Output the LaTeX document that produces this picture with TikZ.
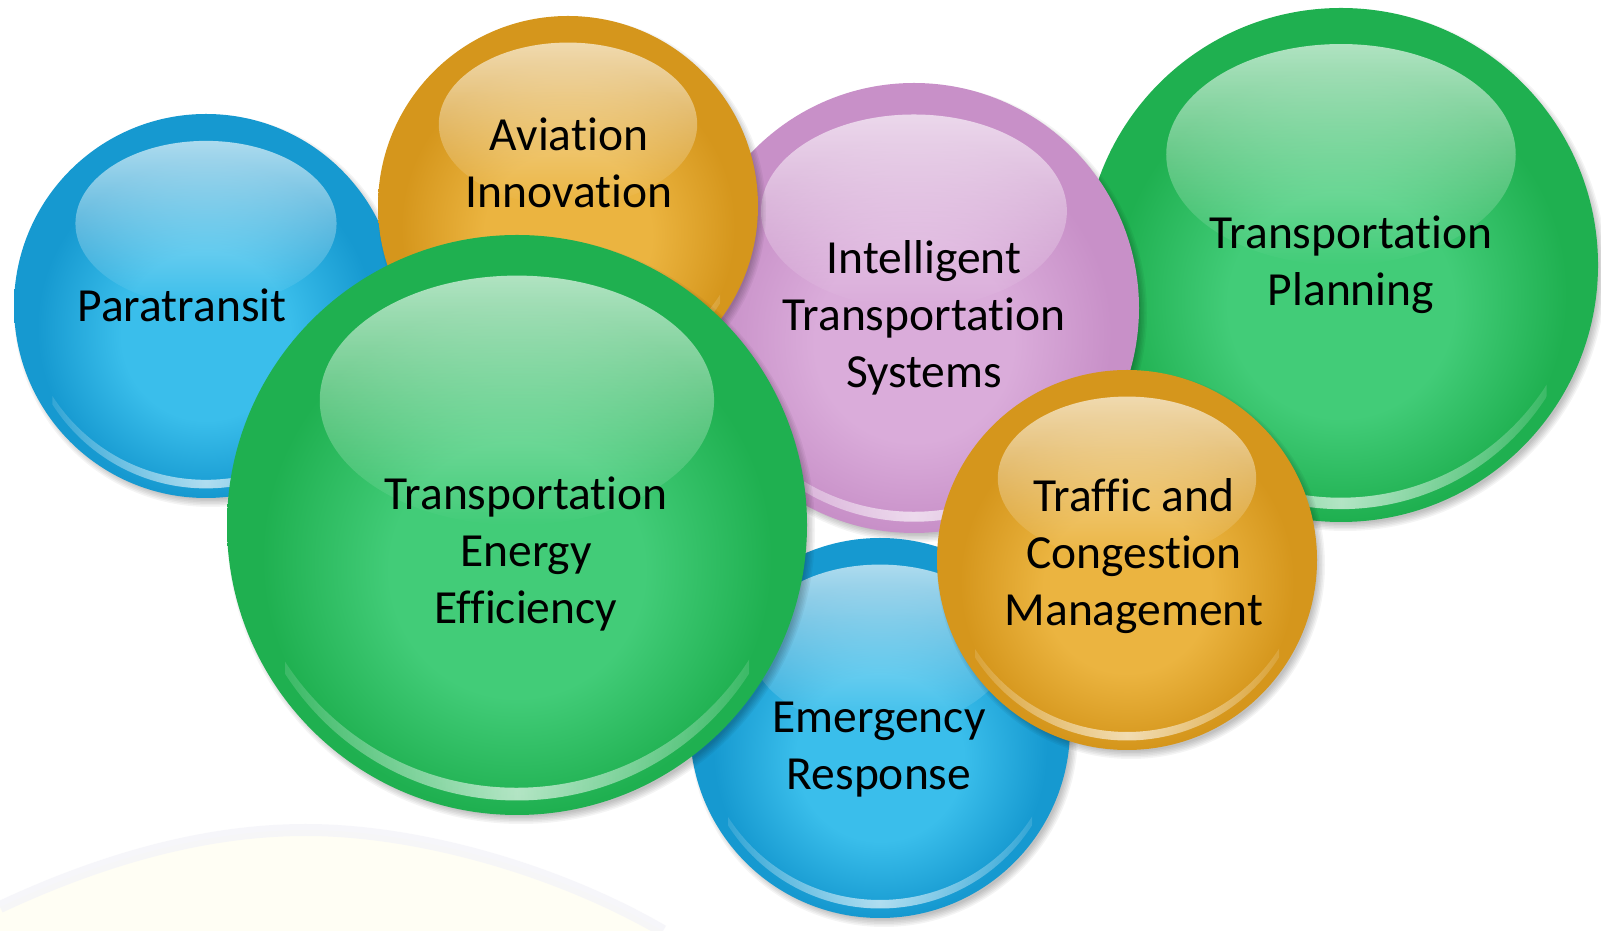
\documentclass[tikz,border=0pt]{standalone}
\usepackage{fontspec}
\setmainfont{Carlito}[Ligatures={NoCommon}]
\usetikzlibrary{fadings}
\definecolor{bluec}{RGB}{58,190,235}
\definecolor{bluee}{RGB}{22,153,208}
\definecolor{greenc}{RGB}{66,204,120}
\definecolor{greene}{RGB}{31,176,80}
\definecolor{orangec}{RGB}{235,180,64}
\definecolor{orangee}{RGB}{213,150,28}
\definecolor{purplec}{RGB}{218,172,218}
\definecolor{purplee}{RGB}{200,144,200}
\definecolor{swy}{RGB}{255,254,244}
\definecolor{swl}{RGB}{243,243,249}
\pgfdeclareradialshading{bluesph}{\pgfpoint{0bp}{-5bp}}{color(0bp)=(bluec); color(11bp)=(bluec); color(22bp)=(bluee); color(25bp)=(bluee); color(50bp)=(bluee)}
\pgfdeclareradialshading{greensph}{\pgfpoint{0bp}{-5bp}}{color(0bp)=(greenc); color(11bp)=(greenc); color(22bp)=(greene); color(25bp)=(greene); color(50bp)=(greene)}
\pgfdeclareradialshading{orangesph}{\pgfpoint{0bp}{-5bp}}{color(0bp)=(orangec); color(11bp)=(orangec); color(22bp)=(orangee); color(25bp)=(orangee); color(50bp)=(orangee)}
\pgfdeclareradialshading{purplesph}{\pgfpoint{0bp}{-5bp}}{color(0bp)=(purplec); color(11bp)=(purplec); color(22bp)=(purplee); color(25bp)=(purplee); color(50bp)=(purplee)}
\tikzfading[name=hlfade, top color=transparent!35, bottom color=transparent!100]
\tikzfading[name=sidefade, left color=transparent!100, right color=transparent!100, middle color=transparent!0]
\tikzset{
  lbl/.style={font=\fontsize{47.5}{57}\selectfont, align=center, text=black, inner sep=0pt, anchor=base},
  shadowdisc/.style={fill=black, opacity=0.045},
  gloss/.style={fill=white, path fading=hlfade},
  rim/.style={fill=white, opacity=0.65, path fading=sidefade, even odd rule}
}
% #1 name, #2 x, #3 y, #4 radius, #5 colour family
\newcommand{\bubble}[5]{%
  \foreach \k in {0,...,5} \fill[shadowdisc] (#2+4,#3-5) circle (#4+4-\k*1.5);
  \shade[shading=#5sph] (#2,#3) circle (#4);
  \coordinate (#1) at (#2,#3);
  \begin{scope}
    \clip (#2,#3) circle (#4);
    \fill[gloss] (#2,#3+0.43*#4) ellipse ({0.68*#4} and {0.43*#4});
  \end{scope}
  \begin{scope}
    \clip (#2,#3) circle (0.95*#4);
    \clip (#2-0.8*#4,#3-#4) rectangle (#2+0.8*#4,#3);
    \fill[rim] (#2-#4,#3-#4) rectangle (#2+#4,#3+#4) (#2,#3+0.045*#4) circle (0.95*#4);
  \end{scope}}
\begin{document}
\begin{tikzpicture}[x=1pt,y=1pt]
\useasboundingbox (0,0) rectangle (1601,931);
\fill[white] (0,0) rectangle (1601,931);
% faint background swoosh
\fill[swy] (0,0) -- (0,24) .. controls (120,80) and (220,101) .. (306,101) .. controls (420,101) and (560,60) .. (663,0) -- cycle;
\draw[swl, line width=12, opacity=0.7] (0,24) .. controls (120,80) and (220,101) .. (306,101) .. controls (420,101) and (560,60) .. (663,0);

\bubble{para}{206}{625}{192}{blue}
\node[lbl] (tpara) at (182,609) {Paratransit};
\bubble{plan}{1341}{666}{257}{green}
\node[lbl] (tplan) at (1351,625) {Transportation\\Planning};
\bubble{its}{914}{623}{225}{purple}
\node[lbl] (tits) at (924,543) {Intelligent\\Transportation\\Systems};
\bubble{avia}{568}{725}{190}{orange}
\node[lbl] (tavia) at (569,723) {Aviation\\Innovation};
\bubble{emer}{880}{203}{190}{blue}
\node[lbl] (temer) at (879,141) {Emergency\\Response};
\bubble{ener}{517}{406}{290}{green}
\node[lbl] (tener) at (526,307) {Transportation\\Energy\\Efficiency};
\bubble{traf}{1127}{371}{190}{orange}
\node[lbl] (ttraf) at (1134,305) {Traffic and\\Congestion\\Management};
\end{tikzpicture}
\end{document}
